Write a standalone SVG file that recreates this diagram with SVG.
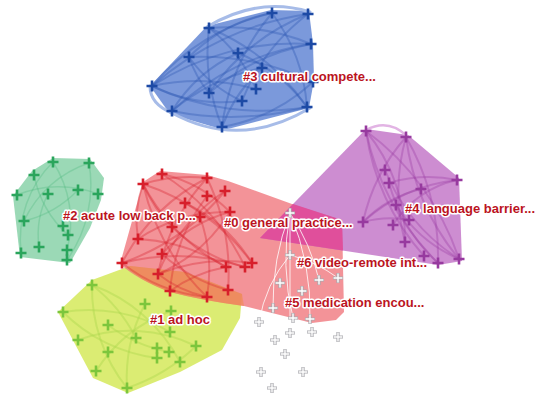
<svg xmlns="http://www.w3.org/2000/svg" xmlns:xlink="http://www.w3.org/1999/xlink" width="541" height="399" viewBox="0 0 541 399">
<style>
.hull{stroke:none}
.lk{fill:none;stroke-linecap:round}
.lb{stroke-width:2;stroke:#2a55b3;opacity:.35}
.lr{stroke-width:2;stroke:#d8222e;opacity:.35}
.lg{stroke-width:1.5;stroke:#49b77c;opacity:.3}
.ly{stroke-width:2;stroke:#a9d84a;opacity:.4}
.lm{stroke-width:2;stroke:#9a3da2;opacity:.35}
.lw{stroke-width:1;stroke:#ffffff;opacity:.8}
.nb{stroke:#1d4aa5;fill:none}
.nr{stroke:#d71f2b;fill:none}
.ng{stroke:#2aa55c;fill:none}
.ny{stroke:#7cc63c;fill:none}
.nm{stroke:#973a9f;fill:none}
.lab{font-family:"Liberation Sans",Arial,sans-serif;font-size:13px;font-weight:bold;fill:#bb141e;stroke:#ffffff;stroke-width:3;stroke-linejoin:round;paint-order:stroke}
</style>
<defs>
<path id="c" d="M-5.5,0H5.5M0,-5.5V5.5" stroke-width="2.6"/>
<g id="w">
<path d="M-5,0H5M0,-5V5" stroke="#a9a9ae" stroke-width="3.2" fill="none"/>
<path d="M-4.4,0H4.4M0,-4.4V4.4" stroke="#ffffff" stroke-width="1.4" fill="none"/>
</g>
</defs>
<rect width="541" height="399" fill="#ffffff"/>

<g id="hulls">
<polygon class="hull" fill="#d5e95a" opacity="0.85" points="92,280 130,266 185,272 242,294 240,318 222,350 180,372 128,393 93,378 58,312"/>
<polygon class="hull" fill="#82cfa4" opacity="0.8" points="53,158 90,159 104,178 101,200 90,228 70,263 20,257 13,196 32,171"/>
<polygon class="hull" fill="#5a80d2" opacity="0.8" points="150,86 207,26 271,10 309,11 313,44 314,80 309,108 224,130 170,114"/>
<path class="lk" d="M207,27 Q258,-4 310,12" stroke="#a7bce8" stroke-width="3"/>
<path class="lk" d="M172,113 Q240,150 310,108" stroke="#a7bce8" stroke-width="3"/>
<path class="lk" d="M150,86 Q150,104 172,113" stroke="#a7bce8" stroke-width="3"/>
<path class="hull" fill="#ef6f76" opacity="0.75" d="M143,182 L160,171 L207,175 L228,181 L292,204 L342,220 L344,312 L336,320 L312,323 L244,306 Q200,300 170,292 Q138,280 120,264 Z"/>
<path class="hull" fill="#f08a4c" opacity="0.55" d="M127,267 L130,266 L185,272 L242,294 L244,306 Q200,300 170,292 Q140,281 127,267 Z"/>
<polygon class="hull" fill="#bf6dc4" opacity="0.78" points="366,129 408,135 459,178 462,261 438,265 260,238"/>
<polygon class="hull" fill="#e24c98" opacity="0.92" points="293,204 342,220 343,250.5 260,238"/>
<path class="lk" d="M366,130 Q388,118 407,136" stroke="#e2b4e4" stroke-width="2.5"/>
</g>

<g id="connectors">
<!-- blue -->
<path class="lk lb" d="M152,86 A220,220 0 0 1 272,13"/>
<path class="lk lb" d="M152,86 A300,300 0 0 1 308,14"/>
<path class="lk lb" d="M152,86 A260,260 0 0 0 307,107"/>
<path class="lk lb" d="M152,86 A220,220 0 0 1 256,89"/>
<path class="lk lb" d="M172,111 A260,260 0 0 1 311,44"/>
<path class="lk lb" d="M172,111 A200,200 0 0 1 262,68"/>
<path class="lk lb" d="M209,28 A220,220 0 0 1 307,107"/>
<path class="lk lb" d="M209,28 A200,200 0 0 0 222,127"/>
<path class="lk lb" d="M209,28 A220,220 0 0 1 311,44"/>
<path class="lk lb" d="M189,57 A260,260 0 0 1 313,82"/>
<path class="lk lb" d="M189,57 A130,130 0 0 0 242,101"/>
<path class="lk lb" d="M238,53 A150,150 0 0 0 172,111"/>
<path class="lk lb" d="M238,53 A160,160 0 0 1 307,107"/>
<path class="lk lb" d="M272,13 A220,220 0 0 0 222,127"/>
<path class="lk lb" d="M272,13 A180,180 0 0 1 307,107"/>
<path class="lk lb" d="M308,14 A220,220 0 0 0 209,93"/>
<path class="lk lb" d="M308,14 A200,200 0 0 0 242,101"/>
<path class="lk lb" d="M311,44 A260,260 0 0 0 152,86"/>
<path class="lk lb" d="M262,68 A150,150 0 0 0 222,127"/>
<path class="lk lb" d="M209,93 A220,220 0 0 1 311,44"/>
<path class="lk lb" d="M256,89 A150,150 0 0 0 209,28"/>
<path class="lk lb" d="M222,127 A180,180 0 0 0 313,82"/>
<path class="lk lb" d="M172,111 A300,300 0 0 0 307,107"/>
<path class="lk lb" d="M189,57 A160,160 0 0 1 272,13"/>
<path class="lk lb" d="M242,101 A160,160 0 0 1 152,86"/>
<path class="lk lb" d="M189,57 A110,110 0 0 0 209,93"/>
<!-- green -->
<path class="lk lg" d="M53,162 A110,110 0 0 0 21,253"/>
<path class="lk lg" d="M89,163 A130,130 0 0 1 67,260"/>
<path class="lk lg" d="M34,175 A110,110 0 0 0 68,235"/>
<path class="lk lg" d="M17,195 A110,110 0 0 1 98,194"/>
<path class="lk lg" d="M24,221 A110,110 0 0 0 78,190"/>
<path class="lk lg" d="M48,194 A90,90 0 0 0 39,247"/>
<path class="lk lg" d="M53,162 A110,110 0 0 1 67,250"/>
<path class="lk lg" d="M89,163 A110,110 0 0 0 24,221"/>
<!-- yellow -->
<path class="lk ly" d="M127,388 A160,160 0 0 1 92,285"/>
<path class="lk ly" d="M127,388 A180,180 0 0 0 196,346"/>
<path class="lk ly" d="M127,388 A160,160 0 0 1 145,304"/>
<path class="lk ly" d="M63,312 A160,160 0 0 1 170,332"/>
<path class="lk ly" d="M63,312 A160,160 0 0 0 157,358"/>
<path class="lk ly" d="M92,285 A160,160 0 0 1 180,362"/>
<path class="lk ly" d="M96,371 A150,150 0 0 1 171,311"/>
<path class="lk ly" d="M78,340 A150,150 0 0 1 196,346"/>
<path class="lk ly" d="M108,325 A150,150 0 0 0 169,352"/>
<path class="lk ly" d="M92,285 A160,160 0 0 1 136,338"/>
<!-- red -->
<path class="lk lr" d="M143,184 A200,200 0 0 0 226,267"/>
<path class="lk lr" d="M143,184 A220,220 0 0 1 252,263"/>
<path class="lk lr" d="M143,184 A230,230 0 0 0 207,297"/>
<path class="lk lr" d="M143,184 A160,160 0 0 1 207,178"/>
<path class="lk lr" d="M162,174 A220,220 0 0 1 245,267"/>
<path class="lk lr" d="M207,178 A200,200 0 0 0 122,263"/>
<path class="lk lr" d="M207,178 A200,200 0 0 0 158,274"/>
<path class="lk lr" d="M207,178 A220,220 0 0 1 228,290"/>
<path class="lk lr" d="M225,191 A180,180 0 0 0 158,274"/>
<path class="lk lr" d="M225,191 A230,230 0 0 1 122,263"/>
<path class="lk lr" d="M207,196 A180,180 0 0 0 170,291"/>
<path class="lk lr" d="M185,203 A160,160 0 0 1 252,263"/>
<path class="lk lr" d="M230,212 A160,160 0 0 1 158,274"/>
<path class="lk lr" d="M230,212 A160,160 0 0 0 138,239"/>
<path class="lk lr" d="M200,217 A160,160 0 0 1 207,297"/>
<path class="lk lr" d="M172,227 A160,160 0 0 0 245,267"/>
<path class="lk lr" d="M138,239 A180,180 0 0 1 226,267"/>
<path class="lk lr" d="M162,254 A160,160 0 0 0 228,290"/>
<path class="lk lr" d="M122,263 A160,160 0 0 0 207,297"/>
<path class="lk lr" d="M122,263 A220,220 0 0 1 245,267"/>
<path class="lk lr" d="M158,274 A180,180 0 0 1 252,263"/>
<path class="lk lr" d="M143,184 A140,140 0 0 0 172,227"/>
<path class="lk lr" d="M162,174 A140,140 0 0 1 230,212"/>
<path class="lk lr" d="M143,184 A110,110 0 0 0 138,239"/>
<path class="lk lr" d="M170,291 A140,140 0 0 1 226,267"/>
<path class="lk lr" d="M158,274 A120,120 0 0 0 207,297"/>
<path class="lk lr" d="M162,254 A140,140 0 0 1 230,212"/>
<!-- magenta -->
<path class="lk lm" d="M366,131 A260,260 0 0 0 438,263"/>
<path class="lk lm" d="M366,131 A260,260 0 0 1 459,259"/>
<path class="lk lm" d="M366,131 A240,240 0 0 0 424,256"/>
<path class="lk lm" d="M406,137 A240,240 0 0 1 438,263"/>
<path class="lk lm" d="M406,137 A240,240 0 0 0 459,259"/>
<path class="lk lm" d="M406,137 A200,200 0 0 0 405,242"/>
<path class="lk lm" d="M385,170 A190,190 0 0 0 459,259"/>
<path class="lk lm" d="M389,183 A140,140 0 0 1 457,180"/>
<path class="lk lm" d="M389,183 A170,170 0 0 0 438,263"/>
<path class="lk lm" d="M363,222 A170,170 0 0 1 457,180"/>
<path class="lk lm" d="M363,222 A100,100 0 0 1 409,220"/>
<path class="lk lm" d="M396,205 A140,140 0 0 0 459,259"/>
<path class="lk lm" d="M421,189 A120,120 0 0 0 363,222"/>
<path class="lk lm" d="M393,225 A100,100 0 0 1 457,180"/>
<path class="lk lm" d="M406,137 A190,190 0 0 0 363,222"/>
<path class="lk lm" d="M366,131 A170,170 0 0 1 405,242"/>
<!-- white (#5/#6) -->
<path class="lk lw" d="M290,213 A250,250 0 0 0 273,308"/>
<path class="lk lw" d="M290,213 A250,250 0 0 1 310,319"/>
<path class="lk lw" d="M290,213 L290,333"/>
<path class="lk lw" d="M290,213 A200,200 0 0 1 319,280"/>
<path class="lk lw" d="M290,255 A140,140 0 0 0 259,322"/>
<path class="lk lw" d="M290,255 A140,140 0 0 1 338,278"/>
<path class="lk lw" d="M290,213 A250,250 0 0 0 293,318"/>
</g>

<g id="cluster-1" class="ny">
<use xlink:href="#c" x="92" y="285"/><use xlink:href="#c" x="63" y="312"/><use xlink:href="#c" x="145" y="304"/>
<use xlink:href="#c" x="171" y="311"/><use xlink:href="#c" x="108" y="325"/><use xlink:href="#c" x="78" y="340"/>
<use xlink:href="#c" x="136" y="338"/><use xlink:href="#c" x="170" y="332"/><use xlink:href="#c" x="108" y="352"/>
<use xlink:href="#c" x="157" y="348"/><use xlink:href="#c" x="169" y="352"/><use xlink:href="#c" x="196" y="346"/>
<use xlink:href="#c" x="157" y="358"/><use xlink:href="#c" x="180" y="362"/><use xlink:href="#c" x="96" y="371"/>
<use xlink:href="#c" x="127" y="388"/>
</g>
<g id="cluster-2" class="ng">
<use xlink:href="#c" x="53" y="162"/><use xlink:href="#c" x="89" y="163"/><use xlink:href="#c" x="34" y="175"/>
<use xlink:href="#c" x="78" y="190"/><use xlink:href="#c" x="98" y="194"/><use xlink:href="#c" x="17" y="195"/>
<use xlink:href="#c" x="48" y="194"/><use xlink:href="#c" x="24" y="221"/><use xlink:href="#c" x="63" y="226"/>
<use xlink:href="#c" x="68" y="235"/><use xlink:href="#c" x="21" y="253"/><use xlink:href="#c" x="39" y="247"/>
<use xlink:href="#c" x="67" y="250"/><use xlink:href="#c" x="67" y="260"/>
</g>
<g id="cluster-3" class="nb">
<use xlink:href="#c" x="272" y="13"/><use xlink:href="#c" x="308" y="14"/><use xlink:href="#c" x="209" y="28"/>
<use xlink:href="#c" x="311" y="44"/><use xlink:href="#c" x="189" y="57"/><use xlink:href="#c" x="238" y="53"/>
<use xlink:href="#c" x="262" y="68"/><use xlink:href="#c" x="313" y="82"/><use xlink:href="#c" x="152" y="86"/>
<use xlink:href="#c" x="209" y="93"/><use xlink:href="#c" x="256" y="89"/><use xlink:href="#c" x="242" y="101"/>
<use xlink:href="#c" x="172" y="111"/><use xlink:href="#c" x="222" y="127"/><use xlink:href="#c" x="307" y="107"/>
</g>
<g id="cluster-0" class="nr">
<use xlink:href="#c" x="162" y="174"/><use xlink:href="#c" x="143" y="184"/><use xlink:href="#c" x="207" y="178"/>
<use xlink:href="#c" x="225" y="191"/><use xlink:href="#c" x="207" y="196"/><use xlink:href="#c" x="185" y="203"/>
<use xlink:href="#c" x="230" y="212"/><use xlink:href="#c" x="200" y="217"/><use xlink:href="#c" x="172" y="227"/>
<use xlink:href="#c" x="138" y="239"/><use xlink:href="#c" x="162" y="254"/><use xlink:href="#c" x="122" y="263"/>
<use xlink:href="#c" x="158" y="274"/><use xlink:href="#c" x="226" y="267"/><use xlink:href="#c" x="245" y="267"/>
<use xlink:href="#c" x="252" y="263"/><use xlink:href="#c" x="170" y="291"/><use xlink:href="#c" x="207" y="297"/>
<use xlink:href="#c" x="228" y="290"/>
</g>
<g id="cluster-4" class="nm">
<use xlink:href="#c" x="366" y="131"/><use xlink:href="#c" x="406" y="137"/><use xlink:href="#c" x="385" y="170"/>
<use xlink:href="#c" x="389" y="183"/><use xlink:href="#c" x="421" y="189"/><use xlink:href="#c" x="457" y="180"/>
<use xlink:href="#c" x="396" y="205"/><use xlink:href="#c" x="363" y="222"/><use xlink:href="#c" x="393" y="225"/>
<use xlink:href="#c" x="409" y="220"/><use xlink:href="#c" x="405" y="242"/><use xlink:href="#c" x="424" y="256"/>
<use xlink:href="#c" x="438" y="263"/><use xlink:href="#c" x="459" y="259"/>
</g>
<g id="cluster-5-6">
<use xlink:href="#w" x="290" y="213"/><use xlink:href="#w" x="290" y="255"/><use xlink:href="#w" x="280" y="283"/>
<use xlink:href="#w" x="319" y="280"/><use xlink:href="#w" x="338" y="278"/><use xlink:href="#w" x="302" y="291"/>
<use xlink:href="#w" x="273" y="308"/><use xlink:href="#w" x="293" y="318"/><use xlink:href="#w" x="310" y="319"/>
<use xlink:href="#w" x="259" y="322"/><use xlink:href="#w" x="290" y="333"/><use xlink:href="#w" x="312" y="332"/>
<use xlink:href="#w" x="338" y="337"/><use xlink:href="#w" x="275" y="340"/><use xlink:href="#w" x="285" y="354"/>
<use xlink:href="#w" x="261" y="372"/><use xlink:href="#w" x="303" y="372"/><use xlink:href="#w" x="272" y="388"/>
</g>

<g id="labels">
<text class="lab" x="243" y="81">#3 cultural compete...</text>
<text class="lab" x="63" y="220">#2 acute low back p...</text>
<text class="lab" x="224" y="227">#0 general practice...</text>
<text class="lab" x="405" y="213">#4 language barrier...</text>
<text class="lab" x="297" y="267">#6 video-remote int...</text>
<text class="lab" x="285" y="307">#5 medication encou...</text>
<text class="lab" x="150" y="324">#1 ad hoc</text>
</g>
</svg>
